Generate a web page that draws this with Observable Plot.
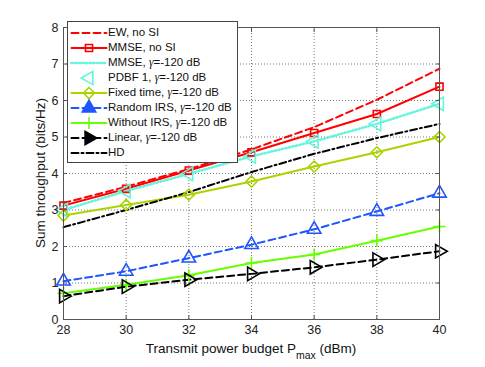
<!DOCTYPE html>
<html>
<head>
<meta charset="utf-8">
<script src="https://cdn.jsdelivr.net/npm/d3@7"></script>
<script src="https://cdn.jsdelivr.net/npm/@observablehq/plot@0.6"></script>
<style>
  body { margin: 0; background: #fff; font-family: "Liberation Sans", Arial, sans-serif; }
  #wrap { position: relative; width: 485px; height: 367px; overflow: hidden; }
  #legend { position: absolute; left: 67px; top: 21px; width: 171px; height: 142px; background: #fff; border: 1px solid #444; box-sizing: border-box; font-size: 11.5px; }
  .row { position: absolute; left: 0; width: 168px; height: 15px; }
  .row svg { position: absolute; left: 0; top: 0; max-width: none !important; }
  .row span { position: absolute; left: 40px; top: 0; line-height: 15px; white-space: nowrap; color: #111; }
  #xlabel { position: absolute; left: 0; width: 502px; text-align: center; top: 341px; font-size: 13.5px; color: #111; }
  #ylabel { position: absolute; left: 40px; top: 173px; font-size: 13.5px; color: #111; transform: translate(-50%, -50%) rotate(-90deg); white-space: nowrap; }
</style>
</head>
<body>
<div id="wrap"></div>
<script>
const power = [28, 30, 32, 34, 36, 38, 40];
const ewNoSI       = [3.19, 3.64, 4.12, 4.66, 5.27, 6.02, 6.87];
const mmseNoSI     = [3.12, 3.58, 4.08, 4.58, 5.11, 5.63, 6.38];
const mmseGamma    = [3.00, 3.52, 3.99, 4.47, 4.88, 5.36, 5.91];
const pdbfGamma    = [3.00, 3.52, 3.99, 4.47, 4.88, 5.36, 5.91];
const fixedTime    = [2.85, 3.14, 3.42, 3.78, 4.19, 4.58, 5.00];
const randomIRS    = [1.05, 1.32, 1.68, 2.05, 2.47, 2.96, 3.46];
const withoutIRS   = [0.72, 0.95, 1.21, 1.55, 1.78, 2.16, 2.55];
const linearGamma  = [0.64, 0.90, 1.09, 1.25, 1.43, 1.64, 1.87];
const hd           = [2.53, 3.00, 3.49, 4.04, 4.54, 4.97, 5.36];
const xTicks = [28, 30, 32, 34, 36, 38, 40];
const yTicks = [0, 1, 2, 3, 4, 5, 6, 7, 8];

const seriesNames = ["EW, no SI", "MMSE, no SI", "MMSE, γ=-120 dB", "PDBF 1, γ=-120 dB", "Fixed time, γ=-120 dB", "Random IRS, γ=-120 dB", "Without IRS, γ=-120 dB", "Linear, γ=-120 dB", "HD"];

const cRed = "#ff0000", cCyan = "#66f5dc", cYel = "#aad400", cBlue = "#1f55ff", cGreen = "#66ff00", cBlack = "#000";

const styles = [
  {vals: ewNoSI, stroke: cRed, dash: "7,4", line: true, w: 2},
  {vals: mmseNoSI, stroke: cRed, dash: null, line: true, w: 2, symbol: "square", fill: "none", r: 4},
  {vals: mmseGamma, stroke: cCyan, dash: "1.2,2.4", line: true, w: 2.6},
  {vals: pdbfGamma, stroke: cCyan, line: false, symbol: "triangle", rotate: -90, fill: "none", r: 5},
  {vals: fixedTime, stroke: cYel, dash: null, line: true, w: 2, symbol: "diamond2", fill: "none", r: 5},
  {vals: randomIRS, stroke: cBlue, dash: "7,4", line: true, w: 2, symbol: "triangle", fill: "none", r: 5},
  {vals: withoutIRS, stroke: cGreen, dash: null, line: true, w: 2, symbol: "plus", fill: "none", r: 4},
  {vals: linearGamma, stroke: cBlack, dash: "7,4", line: true, w: 2, symbol: "triangle", rotate: 90, fill: "none", r: 5},
  {vals: hd, stroke: cBlack, dash: "7,3,2,3", line: true, w: 2}
];

const marks = [
  Plot.gridX(xTicks, {stroke: "#777", strokeOpacity: 1, strokeDasharray: "1,2"}),
  Plot.gridY(yTicks, {stroke: "#777", strokeOpacity: 1, strokeDasharray: "1,2"}),
];
styles.forEach((s, i) => {
  const data = power.map((p, j) => ({x: p, y: s.vals[j]}));
  if (s.line) marks.push(Plot.line(data, {x: "x", y: "y", stroke: s.stroke, strokeWidth: s.w, strokeDasharray: s.dash || undefined}));
});
styles.forEach((s, i) => {
  const data = power.map((p, j) => ({x: p, y: s.vals[j]}));
  if (s.symbol) marks.push(Plot.dot(data, {x: "x", y: "y", stroke: s.stroke, fill: s.fill, strokeWidth: 1.6, symbol: s.symbol, r: s.r, rotate: s.rotate || 0}));
});
marks.push(
  Plot.frame({stroke: "#555"}),
  Plot.axisX(xTicks, {anchor: "bottom", tickSize: -4, tickPadding: 10, fontSize: 12.5, label: null, stroke: "#555", color: "#222"}),
  Plot.axisX(xTicks, {anchor: "top", tickSize: -4, tickFormat: () => "", label: null, stroke: "#555"}),
  Plot.axisY(yTicks, {anchor: "left", tickSize: -4, tickPadding: 9, fontSize: 12.5, label: null, stroke: "#555", color: "#222"}),
  Plot.axisY(yTicks, {anchor: "right", tickSize: -4, tickFormat: () => "", label: null, stroke: "#555"})
);

const chart = Plot.plot({
  width: 485, height: 367,
  marginLeft: 63, marginRight: 46, marginTop: 27, marginBottom: 48,
  style: {fontFamily: "Liberation Sans, Arial, sans-serif", background: "#fff", overflow: "visible"},
  x: {domain: [28, 40]},
  y: {domain: [0, 8]},
  marks
});
const wrap = document.getElementById("wrap");
wrap.appendChild(chart);

// legend
const legend = document.createElement("div");
legend.id = "legend";
styles.forEach((s, i) => {
  const row = document.createElement("div");
  row.className = "row";
  row.style.top = (2.5 + i * 15.1) + "px";
  const data = [{x: 0, y: 0}, {x: 1, y: 0}];
  const mk = [];
  if (s.line) mk.push(Plot.line(data, {x: "x", y: "y", stroke: s.stroke, strokeWidth: s.w, strokeDasharray: s.dash || undefined}));
  if (s.symbol) {
    const legendFill = (i === 5 || i === 7) ? s.stroke : s.fill;
    mk.push(Plot.dot([{x: 0.5, y: 0}], {x: "x", y: "y", stroke: s.stroke, fill: legendFill, strokeWidth: 1.6, symbol: s.symbol, r: s.r, rotate: s.rotate || 0}));
  }
  const sw = Plot.plot({width: 40, height: 15, margin: 0, marginLeft: 3, marginRight: 2, x: {domain: [0, 1], axis: null}, y: {domain: [-1, 1], axis: null}, style: {overflow: "visible"}, marks: mk});
  row.appendChild(sw);
  const t = document.createElement("span");
  t.innerHTML = seriesNames[i].replace("γ", "<i style='font-family:serif;font-size:11.5px'>γ</i>");
  row.appendChild(t);
  legend.appendChild(row);
});
wrap.appendChild(legend);

const xl = document.createElement("div");
xl.id = "xlabel";
xl.innerHTML = "Transmit power budget P<sub style='font-size:10.5px;vertical-align:-6px'>max</sub> (dBm)";
wrap.appendChild(xl);
const yl = document.createElement("div");
yl.id = "ylabel";
yl.textContent = "Sum throughput (bits/Hz)";
wrap.appendChild(yl);
</script>
</body>
</html>
